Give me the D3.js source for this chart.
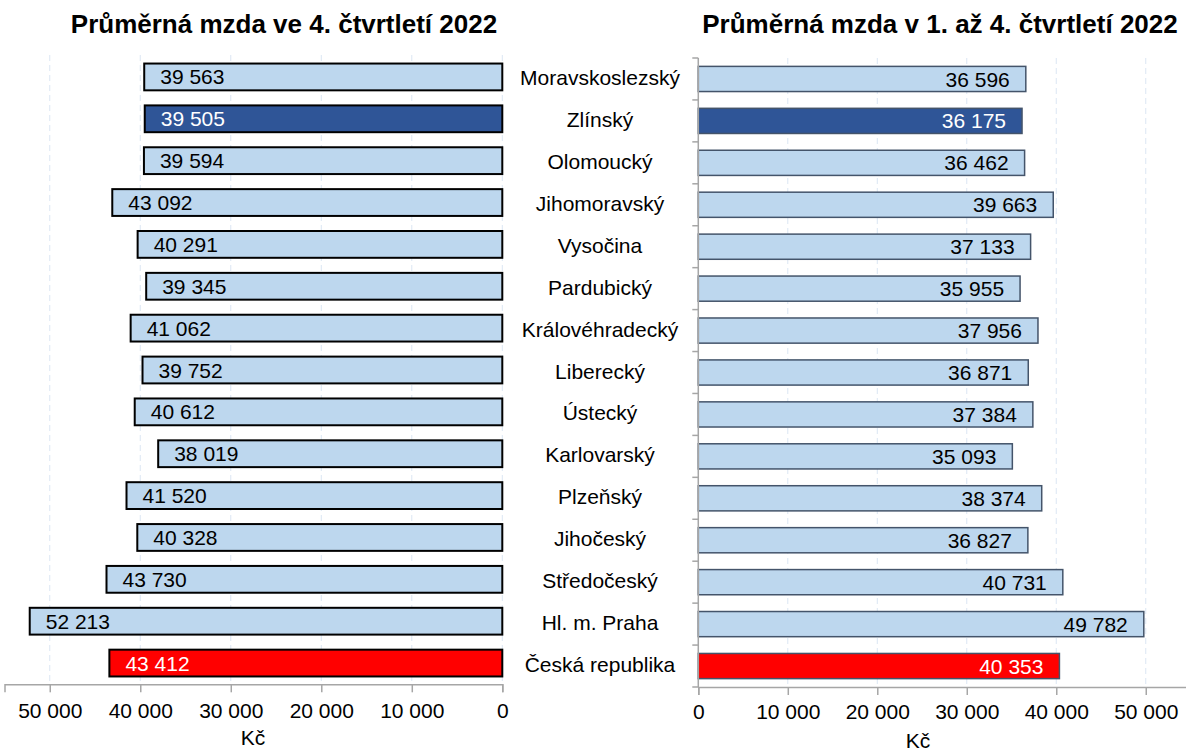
<!DOCTYPE html>
<html>
<head>
<meta charset="utf-8">
<script src="https://cdn.jsdelivr.net/npm/d3@7"></script>
<style>
  body { margin: 0; background: #fff; }
  svg { font-family: "Liberation Sans", Arial, sans-serif; }
</style>
</head>
<body>
<svg width="1186" height="751"></svg>
<script>
// kraje, poradi shora dolu
const regions = ["Moravskoslezský", "Zlínský", "Olomoucký", "Jihomoravský", "Vysočina",
    "Pardubický", "Královéhradecký", "Liberecký", "Ústecký", "Karlovarský",
    "Plzeňský", "Jihočeský", "Středočeský", "Hl. m. Praha", "Česká republika"];
const wageQ4 = [39563, 39505, 39594, 43092, 40291, 39345, 41062, 39752, 40612, 38019,
    41520, 40328, 43730, 52213, 43412];
const wageYear = [36596, 36175, 36462, 39663, 37133, 35955, 37956, 36871, 37384, 35093,
    38374, 36827, 40731, 49782, 40353];
const xTicks = [0, 10000, 20000, 30000, 40000, 50000];
const highlight = {"Zlínský": "#2f5597", "Česká republika": "#ff0000"};

const cz = d3.formatLocale({decimal: ",", thousands: " ", grouping: [3], currency: ["", " Kč"]});
const fmt = cz.format(",d");

let svg = d3.select("svg");

function fillOf(name) { return highlight[name] || "#bdd7ee"; }
function textOf(name) { return highlight[name] ? "#fff" : "#000"; }

// levy graf - osa obracena
let xL = d3.scaleLinear().domain([0, 55000]).range([502.3, 4.5]);
let yL = d3.scaleBand().domain(regions).range([56, 684]).paddingInner(0.36).paddingOuter(0.18);

// pravy graf
let xR = d3.scaleLinear().domain([0, 55000]).range([698.3, 1190.5]);
let yR = d3.scaleBand().domain(regions).range([58, 687]).paddingInner(0.4).paddingOuter(0.2);

function grid(x, y0, y1) {
    svg.append("g").selectAll("line")
        .data(xTicks)
        .enter()
        .append("line")
        .attr("x1", d => x(d)).attr("x2", d => x(d))
        .attr("y1", y0).attr("y2", y1)
        .style("stroke", "#dbe6f3")
        .style("stroke-width", 1)
        .style("stroke-dasharray", "6,4");
}
grid(xL, 55, 684);
grid(xR, 58, 687);

// levy
let dataL = regions.map((r, i) => ({name: r, v: wageQ4[i]}));
svg.append("g").selectAll("rect")
    .data(dataL)
    .enter()
    .append("rect")
    .attr("x", d => xL(d.v))
    .attr("y", d => yL(d.name))
    .attr("width", d => xL(0) - xL(d.v))
    .attr("height", yL.bandwidth())
    .style("fill", d => fillOf(d.name))
    .style("stroke", "#000")
    .style("stroke-width", 2);
svg.append("g").selectAll("text")
    .data(dataL)
    .enter()
    .append("text")
    .attr("x", d => xL(d.v) + 16)
    .attr("y", d => yL(d.name) + yL.bandwidth() / 2)
    .attr("dy", "0.36em")
    .style("font-size", "21px")
    .style("fill", d => textOf(d.name))
    .text(d => fmt(d.v));

// pravy
let dataR = regions.map((r, i) => ({name: r, v: wageYear[i]}));
svg.append("g").selectAll("rect")
    .data(dataR)
    .enter()
    .append("rect")
    .attr("x", xR(0))
    .attr("y", d => yR(d.name))
    .attr("width", d => xR(d.v) - xR(0))
    .attr("height", yR.bandwidth())
    .style("fill", d => fillOf(d.name))
    .style("stroke", "#44546a")
    .style("stroke-width", 1.5);
svg.append("g").selectAll("text")
    .data(dataR)
    .enter()
    .append("text")
    .attr("x", d => xR(d.v) - 16)
    .attr("y", d => yR(d.name) + yR.bandwidth() / 2)
    .attr("dy", "0.36em")
    .attr("text-anchor", "end")
    .style("font-size", "21px")
    .style("fill", d => textOf(d.name))
    .text(d => fmt(d.v));

// nazvy kraju uprostred
svg.append("g").selectAll("text")
    .data(regions)
    .enter()
    .append("text")
    .attr("x", 600)
    .attr("y", d => yL(d) + yL.bandwidth() / 2 + 1)
    .attr("dy", "0.36em")
    .attr("text-anchor", "middle")
    .style("font-size", "21px")
    .text(d => d);

// osy x
function xAxis(x, yPos, pad) {
    let g = svg.append("g")
        .attr("transform", "translate(0," + yPos + ")")
        .call(d3.axisBottom(x).tickValues(xTicks).tickSize(8).tickPadding(pad).tickFormat(fmt));
    g.select(".domain").style("stroke", "#a6a6a6").style("stroke-width", 1.5);
    g.selectAll(".tick line").style("stroke", "#a6a6a6").style("stroke-width", 1.5);
    g.selectAll(".tick text")
        .style("font-size", "21px")
        .style("fill", "#000")
        .style("font-family", "Liberation Sans, Arial, sans-serif");
    return g;
}
xAxis(xL, 684.3, 11);
xAxis(xR, 687, 9);

// leva osa praveho grafu s oddelovaci
let yAxisR = svg.append("g")
    .attr("transform", "translate(" + xR(0) + ",0)");
yAxisR.append("line")
    .attr("y1", yR.range()[0]).attr("y2", yR.range()[1])
    .style("stroke", "#a6a6a6").style("stroke-width", 1.5);
yAxisR.selectAll("line.sep")
    .data(d3.range(regions.length + 1))
    .enter()
    .append("line")
    .attr("class", "sep")
    .attr("x1", -6).attr("x2", 0)
    .attr("y1", i => yR.range()[0] + i * yR.step())
    .attr("y2", i => yR.range()[0] + i * yR.step())
    .style("stroke", "#a6a6a6").style("stroke-width", 1.5);

// popisky os
svg.append("text").attr("x", 253).attr("y", 745).attr("text-anchor", "middle")
    .style("font-size", "21px").text("Kč");
svg.append("text").attr("x", 918).attr("y", 748).attr("text-anchor", "middle")
    .style("font-size", "21px").text("Kč");

// titulky
svg.append("text").attr("x", 284).attr("y", 33).attr("text-anchor", "middle")
    .style("font-size", "26px").style("font-weight", "bold")
    .text("Průměrná mzda ve 4. čtvrtletí 2022");
svg.append("text").attr("x", 940).attr("y", 33).attr("text-anchor", "middle")
    .style("font-size", "26px").style("font-weight", "bold")
    .text("Průměrná mzda v 1. až 4. čtvrtletí 2022");
</script>
</body>
</html>
